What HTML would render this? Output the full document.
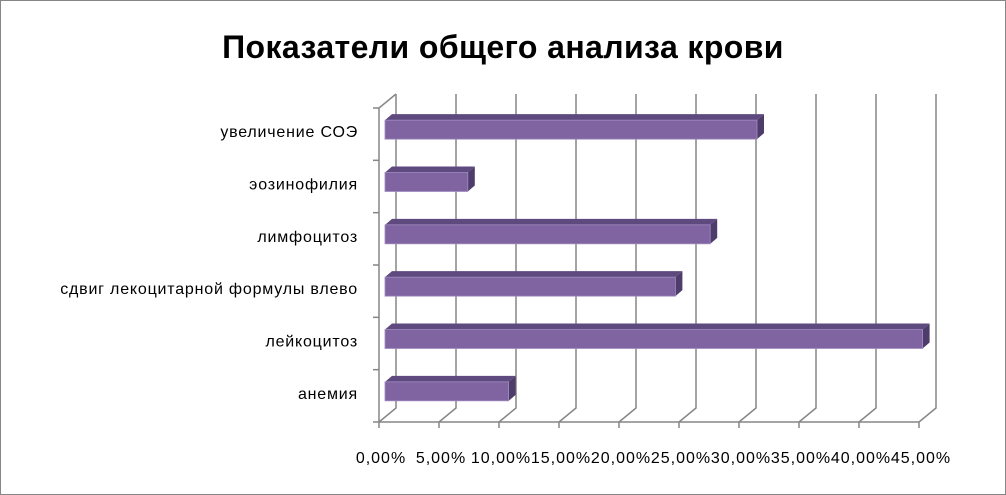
<!DOCTYPE html>
<html><head><meta charset="utf-8"><style>
body{margin:0;background:#fff}
svg{display:block;font-family:"Liberation Sans",sans-serif}
</style></head><body>
<svg width="1006" height="495">
<rect x="0.5" y="0.5" width="1005" height="494" fill="#fff" stroke="#868686"/>
<text x="503" y="58" text-anchor="middle" font-size="32" font-weight="bold" letter-spacing="0.4" fill="#000">Показатели общего анализа крови</text>
<g id="grid"></g><g id="bars"></g><g id="labels"></g>
</svg>
<script>
const categories=["увеличение СОЭ","эозинофилия","лимфоцитоз","сдвиг лекоцитарной формулы влево","лейкоцитоз","анемия"];
const values=[31.0,6.9,27.1,24.2,44.8,10.3];
const ticks=[0,5,10,15,20,25,30,35,40,45];
const tickLabels=["0,00%","5,00%","10,00%","15,00%","20,00%","25,00%","30,00%","35,00%","40,00%","45,00%"];
const NS="http://www.w3.org/2000/svg";
const x0=379,pxPer=12,yTop=108,yBot=422,DX=17,DY=-14;
const xs=v=>x0+v*pxPer;
const band=(yBot-yTop)/categories.length;
function mk(t,a,p){const e=document.createElementNS(NS,t);for(const k in a)e.setAttribute(k,a[k]);p.appendChild(e);return e;}
const g=document.getElementById('grid'),b=document.getElementById('bars'),l=document.getElementById('labels');
ticks.forEach((t,i)=>{
 const x=xs(t);
 const ln=mk('polyline',{points:`${x},${yBot+6} ${x},${yBot} ${x+DX},${yBot+DY} ${x+DX},${yTop+DY}`,fill:'none',stroke:'#868686','stroke-width':1.5},g);
 
 
 const tx=mk('text',{x:x+2,y:463,'text-anchor':'middle','font-size':16,'letter-spacing':1,fill:'#000'},l);
 tx.textContent=tickLabels[i];
 
 
});
const ax=mk('polyline',{points:`${xs(0)+DX},${yTop+DY} ${xs(0)},${yTop} ${xs(0)},${yBot} ${xs(45)},${yBot}`,fill:'none',stroke:'#868686','stroke-width':1.5},g);


for(let i=0;i<=categories.length;i++){
 const y=yTop+i*band;
 const tk=mk('line',{x1:x0-6,y1:y,x2:x0,y2:y,stroke:'#868686','stroke-width':1.5},g);
 
 
}
categories.forEach((c,i)=>{
 const cy=yTop+(i+0.5)*band;
 const h=19,d=7,dv=6;
 const xa=x0+6,xb=x0+6+values[i]*pxPer;
 const yt=cy-14;
 const grp=mk('g',{},b);
 
 
 mk('polygon',{points:`${xa},${yt} ${xa+d},${yt-dv} ${xb+d},${yt-dv} ${xb},${yt}`,fill:'#5f4a7f'},grp);
 mk('polygon',{points:`${xb},${yt} ${xb+d},${yt-dv} ${xb+d},${yt+h-dv} ${xb},${yt+h}`,fill:'#4e3c6a'},grp);
 mk('rect',{x:xa,y:yt,width:xb-xa,height:h,fill:'#8064a2',stroke:'#a08cc0','stroke-width':0.8},grp);
 const t=mk('text',{x:358,y:cy+3,'text-anchor':'end','font-size':16,'letter-spacing':0.8,fill:'#000'},l);
 t.textContent=c;
 
 
});
</script>
</body></html>
